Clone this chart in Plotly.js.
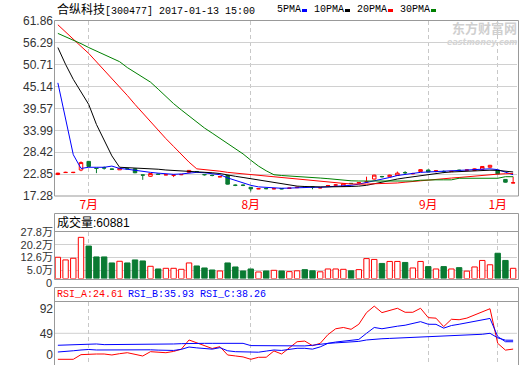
<!DOCTYPE html>
<html><head><meta charset="utf-8">
<script src="https://cdn.plot.ly/plotly-3.0.1.min.js"></script>
<style>html,body{margin:0;padding:0;background:#fff;}#chart{width:520px;height:365px;}</style>
</head><body><div id="chart"></div>
<script>
// ---- data ----
const dates = [
 '2016-06-27','2016-06-28','2016-06-29','2016-06-30',
 '2016-07-01','2016-07-04','2016-07-05','2016-07-06','2016-07-07','2016-07-08',
 '2016-07-11','2016-07-12','2016-07-13','2016-07-14','2016-07-15',
 '2016-07-18','2016-07-19','2016-07-20','2016-07-21','2016-07-22',
 '2016-07-25','2016-07-26','2016-07-27','2016-07-28','2016-07-29',
 '2016-08-01','2016-08-02','2016-08-03','2016-08-04','2016-08-05',
 '2016-08-08','2016-08-09','2016-08-10','2016-08-11','2016-08-12',
 '2016-08-15','2016-08-16','2016-08-17','2016-08-18','2016-08-19',
 '2016-08-22','2016-08-23','2016-08-24','2016-08-25','2016-08-26',
 '2016-08-29','2016-08-30','2016-08-31',
 '2016-09-01','2016-09-02','2016-09-05','2016-09-06','2016-09-07','2016-09-08','2016-09-09','2016-09-12','2016-09-13',
 '2017-01-11','2017-01-12','2017-01-13'
];
const openP  = [22.75,23.25,23.25,23.9,26.1,24.35,24.5,24.15,23.95,24.25,
                24.2,22.65,22.3,22.85,22.65,22.55,22.7,23.3,23.5,22.75,
                22.55,22.15,22.5,20.05,20.05,19.5,19.1,19.2,19.1,19.2,
                19.2,19.4,19.6,19.6,19.35,19.9,20.05,19.7,20.5,20.6,
                20.85,21.6,22.25,22.2,22.5,23.25,22.95,23.5,23.9,23.65,
                23.55,23.5,23.85,23.85,23.8,24.1,24.6,23.8,21.5,20.6];
const highP  = [23.2,23.45,23.4,26.1,26.2,24.4,24.8,24.2,24.4,24.4,
                24.3,22.7,23.1,22.95,22.8,22.7,22.85,23.9,23.6,22.9,
                22.7,22.25,22.6,20.2,20.2,19.55,19.2,19.3,19.25,19.3,
                19.35,19.55,19.65,19.65,19.45,20.1,20.3,20.5,20.6,20.8,
                22.2,22.7,22.4,22.7,23.5,23.6,23.2,24.1,24.0,23.9,
                23.8,23.65,24.0,24.0,24.3,24.9,25.2,23.9,21.6,22.2];
const lowP   = [22.6,23.15,23.1,23.6,24.7,23.1,24.0,24.0,23.9,24.1,
                23.1,21.4,22.2,22.7,22.6,22.1,22.6,23.2,23.3,22.5,
                22.3,22.1,20.2,19.8,19.8,18.45,19.05,19.0,19.0,19.0,
                19.1,19.3,19.4,19.0,19.25,19.8,19.9,19.6,20.35,20.5,
                20.8,21.5,22.0,22.1,22.4,22.8,22.8,23.4,23.3,23.3,
                23.1,23.4,23.6,23.75,23.7,23.8,24.5,22.8,20.7,20.6];
const closeP = [23.1,23.3,23.3,25.8,24.8,24.3,24.4,24.1,24.3,24.2,
                23.2,22.6,23.0,22.8,22.7,22.6,22.75,23.8,23.45,22.7,
                22.5,22.2,20.3,20.0,20.0,19.1,19.15,19.15,19.15,19.1,
                19.3,19.5,19.5,19.55,19.4,19.95,20.1,20.4,20.45,20.7,
                20.9,22.6,22.2,22.6,23.1,23.2,23.0,24.0,23.4,23.7,
                23.5,23.55,23.8,23.9,24.2,24.8,25.1,22.9,20.8,20.65];
const ma5  = [46.1,36.5,27.8,24.3,24.6,24.6,24.6,24.9,24.3,24.1,
              23.8,23.5,23.3,23.1,23.0,22.8,22.9,23.1,23.3,23.2,
              23.0,22.7,21.9,21.2,20.6,20.0,19.6,19.45,19.3,19.25,
              19.3,19.4,19.5,19.5,19.5,19.6,19.7,19.8,20.0,20.3,
              20.7,21.2,21.6,22.0,22.5,22.8,23.0,23.3,23.4,23.5,
              23.6,23.6,23.7,23.8,23.9,24.0,24.2,24.0,23.3,22.7];
const ma10 = [55.1,50.8,47.0,43.9,40.6,35.5,31.5,27.5,24.6,24.5,
              24.5,24.4,24.2,24.1,23.9,23.8,23.6,23.5,23.45,23.4,
              23.2,23.0,22.6,22.3,22.0,21.7,21.4,21.1,20.8,20.5,
              20.2,19.8,19.7,19.6,19.6,19.6,19.6,19.7,19.7,19.8,
              20.0,20.4,20.8,21.3,21.6,21.9,22.2,22.5,22.8,23.0,
              23.25,23.4,23.5,23.6,23.7,23.8,23.85,23.8,23.6,23.4];
const ma20 = [60.9,59.0,57.1,55.4,53.6,51.5,49.4,47.3,45.2,42.9,
              40.6,38.4,36.2,34.1,31.9,29.9,27.9,25.9,24.2,24.0,
              23.9,23.6,23.3,23.1,22.95,22.75,22.55,22.4,22.2,22.0,
              21.85,21.65,21.45,21.2,21.0,20.85,20.65,20.5,20.35,20.3,
              20.3,20.4,20.45,20.5,20.6,20.8,21.0,21.2,21.4,21.5,
              21.7,21.85,22.0,22.2,22.35,22.5,22.7,22.85,22.95,23.0];
const ma30 = [58.7,57.9,57.0,56.1,55.1,54.2,53.3,52.5,51.5,50.0,
              48.8,47.6,46.3,44.5,42.6,40.8,39.2,37.6,36.0,34.6,
              33.3,32.0,30.7,29.4,28.0,26.4,24.9,23.7,22.7,22.5,
              22.4,22.25,22.1,22.0,21.85,21.7,21.5,21.3,21.15,21.1,
              21.1,21.1,21.1,21.1,21.1,21.1,21.1,21.3,21.4,21.4,
              21.4,21.4,21.8,21.8,21.8,21.8,21.8,21.8,22.2,22.2];
const volumeWan = [12.7,11.1,12.1,24.6,19.4,12.9,12.9,9.3,10.3,9.3,
                   11.1,10.5,7.3,5.7,6.1,6.1,5.5,9.3,7.5,6.3,
                   5.1,4.5,9.3,6.9,4.5,5.7,3.9,4.5,4.9,4.5,
                   4.1,4.6,5.3,4.6,4.0,5.7,5.7,5.5,4.6,5.3,
                   11.9,11.4,9.0,10.2,10.2,9.6,6.3,10.2,7.1,5.7,
                   7.1,5.7,6.5,4.4,6.9,10.8,8.2,15.1,10.8,6.09];
const rsiA = [8.8,8.8,8.8,16,17,17,17,15.5,17.5,19,
              16.5,13.9,20.6,20,19,21,24.5,38.7,34,29,
              25.5,28.3,15.5,14,12.5,8.8,11.9,12,21.7,17,
              26,36,37,29.9,33.5,47,56,58,55.2,63,
              81,91,81,84,87.7,81.5,81.5,87.7,73.2,72.4,
              59.3,70.7,70,72.5,77,82,87,33.5,23,24.61];
const rsiB = [20.1,20.5,22,23.2,24,23.2,23.2,23.2,24.2,24.2,
              24.2,24.2,23.5,23,22.2,22.5,24.2,27.8,26.5,25.8,
              24.5,26.8,22,20.6,20.2,19.8,19.8,21.5,23.2,22.5,
              24.5,25.8,25.8,24.5,28,33.5,35.5,37,37.5,39.5,
              49,58,56,58.5,60,61.5,64,67,63,62.9,
              57,61,63,65,67.5,70,72,44,36,35.93];
const rsiC = [30.5,30.8,31.5,32.5,32.5,32.5,31.5,31.5,32,32,
              32,32,32,32,32,32.5,33,33.5,33.5,33.5,
              33.5,33.5,33.5,33.5,33.5,30,29.8,29.5,29.5,29.5,
              29.5,29.5,29.5,30.5,32.5,33.5,34.2,34.8,35.4,36.5,
              38.7,40.2,40.6,41.1,41.6,42.1,42.6,43.3,43.8,44.2,
              44.5,44.9,45.3,45.7,46.1,47.5,49,42,38.4,38.26];
const monthTickDates = ['2016-07-01','2016-08-01','2016-09-01','2017-01-11'];
const monthTickText = ['7月','8月','9月','1月'];
const priceTicks = [17.28,22.85,28.42,33.99,39.57,45.14,50.71,56.29,61.86];
const volTicks = [5.0,12.6,20.2,27.8];
const volTickText = ['5.0万','12.6万','20.2万','27.8万'];
const volZeroText = '0';
const rsiTickPos = [15.5,49,86.2];
const rsiTickText = ['0','49','92'];
const maNames = ['5PMA','10PMA','20PMA','30PMA'];
const maColors = ['#0000FF','#000000','#FF0000','#008000'];
const UP = '#FF0000', DOWN = '#0A7A32';

// ---- geometry helpers (pixel -> paper) ----
const L = 54, R = 3, T = 21, B = 0, W = 520, H = 365;
const PW = W - L - R, PH = H - T - B;
const px = p => (p - L) / PW;
const py = p => (H - B - p) / PH;

const volColors = closeP.map((c, i) => c >= openP[i] ? UP : DOWN);
const volFill = closeP.map((c, i) => c >= openP[i] ? '#FFFFFF' : DOWN);

const traces = [];
traces.push({type:'candlestick', x:dates, open:openP, high:highP, low:lowP, close:closeP,
  xaxis:'x', yaxis:'y',
  increasing:{line:{color:UP,width:1}, fillcolor:'#FFFFFF'},
  decreasing:{line:{color:DOWN,width:1}, fillcolor:DOWN},
  whiskerwidth:0, hoverinfo:'skip', showlegend:false});
[ma5, ma10, ma20, ma30].forEach((m, k) => traces.push({type:'scatter', mode:'lines', x:dates, y:m,
  xaxis:'x', yaxis:'y', line:{color:maColors[k], width:1}, hoverinfo:'skip', showlegend:false, name:maNames[k]}));
traces.push({type:'bar', x:dates, y:volumeWan, xaxis:'x', yaxis:'y2',
  marker:{color:volFill, line:{color:volColors, width:1}}, hoverinfo:'skip', showlegend:false});
[[rsiA,'#FF0000'],[rsiB,'#0000FF'],[rsiC,'#0000FF']].forEach(([d,c]) => traces.push({type:'scatter', mode:'lines',
  x:dates, y:d, xaxis:'x', yaxis:'y3', line:{color:c, width:1}, hoverinfo:'skip', showlegend:false}));

const labFont = {family:'Liberation Sans, Noto Sans CJK SC', size:12, color:'#333333'};
const volFont = {family:'Liberation Sans, Noto Sans CJK SC', size:11, color:'#333333'};
const gridC = '#D0D0D0', frameC = '#999999';

const layout = {
  width:W, height:H, margin:{l:L, r:R, t:T, b:B},
  paper_bgcolor:'#FFFFFF', plot_bgcolor:'#FFFFFF', showlegend:false,
  bargap:0.3, boxgap:0.35,
  xaxis:{type:'category', anchor:'y', range:[-0.5, dates.length-0.5], rangeslider:{visible:false},
    tickmode:'array', tickvals:monthTickDates, ticktext:monthTickText, ticks:'',
    tickfont:{family:'Noto Sans CJK SC', size:12, color:'#FF0000'},
    showgrid:true, gridcolor:'#C8C8C8', griddash:'4px,3px', gridwidth:1, showline:false, zeroline:false},
  yaxis:{domain:[py(196), py(21)], range:[17.28, 61.86], tickmode:'array', tickvals:priceTicks,
    ticktext:priceTicks.map(v => v.toFixed(2)), tickfont:labFont, ticks:'',
    showgrid:true, gridcolor:gridC, zeroline:false, showline:false},
  yaxis2:{domain:[py(278.5), py(232)], range:[0, 27.8], tickmode:'array', tickvals:volTicks,
    ticktext:volTickText, tickfont:volFont, ticks:'', anchor:'x',
    showgrid:true, gridcolor:gridC, zeroline:false, showline:false},
  yaxis3:{domain:[py(365), py(302)], range:[0, 97.4], tickmode:'array', tickvals:rsiTickPos,
    ticktext:rsiTickText, tickfont:labFont, ticks:'', anchor:'x',
    showgrid:false, zeroline:false, showline:false},
  shapes:[
    {type:'line', xref:'paper', yref:'y3', x0:0, x1:1, y0:49, y1:49, line:{color:gridC, width:1}, layer:'below'},
    {type:'rect', xref:'paper', yref:'paper', x0:px(54.5), x1:px(518.5), y0:py(196), y1:py(20.5), line:{color:frameC, width:1}},
    {type:'rect', xref:'paper', yref:'paper', x0:px(54.5), x1:px(518.5), y0:py(279.5), y1:py(213.5), line:{color:frameC, width:1}},
    {type:'line', xref:'paper', yref:'paper', x0:px(54.5), x1:px(518.5), y0:py(231.5), y1:py(231.5), line:{color:frameC, width:1}},
    {type:'rect', xref:'paper', yref:'paper', x0:px(54.5), x1:px(518.5), y0:py(366), y1:py(287.5), line:{color:frameC, width:1}},
    {type:'line', xref:'paper', yref:'paper', x0:px(54.5), x1:px(518.5), y0:py(301.5), y1:py(301.5), line:{color:frameC, width:1}}
  ],
  annotations:[]
};
// legend labels with color swatches
const legX = [276, 313, 356, 399];
maNames.forEach((n, k) => {
  const textW = n.length * 6;
  layout.annotations.push({xref:'paper', yref:'paper', x:px(legX[k]), y:py(10), xanchor:'left', yanchor:'middle',
    text:n, showarrow:false, borderpad:0, font:{family:'Liberation Mono, Noto Sans CJK SC', size:10, color:'#000'}});
  layout.shapes.push({type:'rect', xref:'paper', yref:'paper', x0:px(legX[k]+textW+2), x1:px(legX[k]+textW+7),
    y0:py(12), y1:py(9), fillcolor:maColors[k], line:{width:0}});
});
layout.annotations.push(
  {xref:'paper', yref:'paper', x:px(52.5), y:py(282.5), xanchor:'right', yanchor:'middle', showarrow:false, borderpad:0,
   text:volZeroText, font:volFont},
  {xref:'paper', yref:'paper', x:px(56), y:py(10), xanchor:'left', yanchor:'middle', showarrow:false, borderpad:0,
   text:'<span style="font-size:12px">合纵科技</span>[300477] 2017-01-13 15:00',
   font:{family:'Liberation Mono, Noto Sans CJK SC', size:10, color:'#000'}},
  {xref:'paper', yref:'paper', x:px(56), y:py(222.5), xanchor:'left', yanchor:'middle', showarrow:false, borderpad:0,
   text:'成交量:60881', font:{family:'Liberation Sans, Noto Sans CJK SC', size:12, color:'#000'}},
  {xref:'paper', yref:'paper', x:px(56), y:py(294.5), xanchor:'left', yanchor:'middle', showarrow:false, borderpad:0,
   text:'RSI_A:24.61', font:{family:'Liberation Mono, Noto Sans CJK SC', size:10, color:'#FF0000'}},
  {xref:'paper', yref:'paper', x:px(127), y:py(294.5), xanchor:'left', yanchor:'middle', showarrow:false, borderpad:0,
   text:'RSI_B:35.93', font:{family:'Liberation Mono, Noto Sans CJK SC', size:10, color:'#0000FF'}},
  {xref:'paper', yref:'paper', x:px(199), y:py(294.5), xanchor:'left', yanchor:'middle', showarrow:false, borderpad:0,
   text:'RSI_C:38.26', font:{family:'Liberation Mono, Noto Sans CJK SC', size:10, color:'#0000FF'}},
  {xref:'paper', yref:'paper', x:px(518), y:py(27), xanchor:'right', yanchor:'middle', showarrow:false, borderpad:0,
   text:'<b>东方财富网</b>', font:{family:'Noto Sans CJK SC', size:13, color:'#CFCFCF'}},
  {xref:'paper', yref:'paper', x:px(518), y:py(42), xanchor:'right', yanchor:'middle', showarrow:false, borderpad:0,
   text:'<b><i>eastmoney.com</i></b>', font:{family:'DejaVu Sans', size:8, color:'#D5D5D5'}}
);

Plotly.newPlot('chart', traces, layout, {staticPlot:true, displayModeBar:false});
</script></body></html>
